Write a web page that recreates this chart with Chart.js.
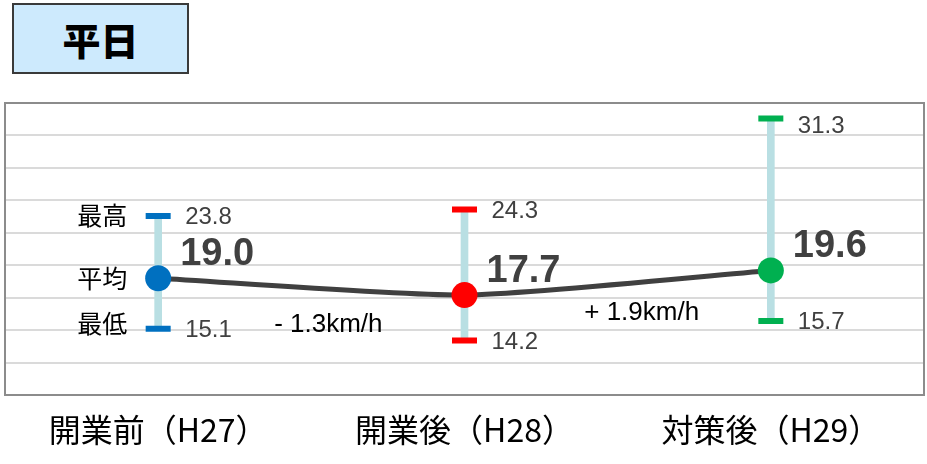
<!DOCTYPE html>
<html>
<head>
<meta charset="utf-8">
<script src="https://cdn.jsdelivr.net/npm/chart.js@4/dist/chart.umd.min.js"></script>
<style>
  html, body { margin: 0; padding: 0; background: #fff; }
  #wrap { position: relative; width: 927px; height: 464px; overflow: hidden; }
  canvas { position: absolute; left: 0; top: 0; }
  #badge {
    position: absolute; left: 12px; top: 3px; width: 173px; height: 67px;
    background: #cdeafd; border: 2px solid #3a3a3a;
    display: flex; align-items: center; justify-content: center;
    font: 900 38px "Noto Sans CJK JP", sans-serif; color: #000;
  }
</style>
</head>
<body>
<div id="wrap">
  <canvas id="c" width="927" height="464"></canvas>
  <div id="badge">平日</div>
</div>
<script>
// Weekday travel speeds (km/h) for each period
const categories = ['開業前（H27）', '開業後（H28）', '対策後（H29）'];
const averages = [19.0, 17.7, 19.6];
const maxima = [23.8, 24.3, 31.3];
const minima = [15.1, 14.2, 15.7];
const rowLabels = ['最高', '平均', '最低'];
const periodColors = ['#0070c0', '#ff0000', '#00b050'];
const speedUnit = 'km/h';

// Offsets of the change labels from the middle of each connecting segment
const changeLabelOffsets = [[17, 38], [24, 30]];

const annotate = {
  id: 'annotate',
  beforeDatasetsDraw(chart) {
    // plot frame
    const { ctx, chartArea: a } = chart;
    ctx.save();
    ctx.strokeStyle = '#8c8c8c';
    ctx.lineWidth = 2;
    ctx.strokeRect(a.left, a.top, a.right - a.left, a.bottom - a.top);
    ctx.restore();
  },
  afterDatasetsDraw(chart) {
    const { ctx, chartArea: a, scales: { x, y } } = chart;
    ctx.save();
    ctx.textBaseline = 'middle';

    // max / min values beside the caps
    ctx.font = '24px "Liberation Sans", Arial, sans-serif';
    ctx.fillStyle = '#404040';
    ctx.textAlign = 'left';
    categories.forEach((c, i) => {
      const px = x.getPixelForValue(i);
      const yMax = Math.max(y.getPixelForValue(maxima[i]) + 1.5, a.top + 23);
      ctx.fillText(maxima[i].toFixed(1), px + 27, yMax);
      ctx.fillText(minima[i].toFixed(1), px + 27, y.getPixelForValue(minima[i]) + 1.5);
    });

    // average values
    ctx.font = 'bold 38px "Liberation Sans", Arial, sans-serif';
    categories.forEach((c, i) => {
      const px = x.getPixelForValue(i);
      ctx.fillText(averages[i].toFixed(1), px + 22, y.getPixelForValue(averages[i]) - 24);
    });

    // row captions next to the first period
    ctx.font = '25px "Noto Sans CJK JP", sans-serif';
    ctx.fillStyle = '#000';
    ctx.textAlign = 'center';
    const x0 = x.getPixelForValue(0) - 56;
    ctx.fillText(rowLabels[0], x0, y.getPixelForValue(maxima[0]));
    ctx.fillText(rowLabels[1], x0, y.getPixelForValue(averages[0]));
    ctx.fillText(rowLabels[2], x0, y.getPixelForValue(minima[0]) - 5);

    // change between consecutive averages
    ctx.font = '26px "Liberation Sans", Arial, sans-serif';
    for (let i = 1; i < averages.length; i++) {
      const diff = averages[i] - averages[i - 1];
      const text = (diff < 0 ? '- ' : '+ ') + Math.abs(diff).toFixed(1) + speedUnit;
      const mx = (x.getPixelForValue(i - 1) + x.getPixelForValue(i)) / 2;
      const my = (y.getPixelForValue(averages[i - 1]) + y.getPixelForValue(averages[i])) / 2;
      const [dx, dy] = changeLabelOffsets[i - 1];
      ctx.fillText(text, mx + dx, my + dy);
    }
    ctx.restore();
  }
};

new Chart(document.getElementById('c'), {
  type: 'bar',
  data: {
    labels: categories,
    datasets: [
      {
        type: 'line',
        data: averages,
        borderColor: '#404040',
        borderWidth: 5,
        tension: 0.2,
        pointRadius: 13,
        pointHoverRadius: 13,
        pointBackgroundColor: periodColors,
        pointBorderWidth: 0,
        order: 0
      },
      {
        type: 'line',
        data: maxima,
        showLine: false,
        pointStyle: 'line',
        pointRadius: 12.5,
        pointBorderWidth: 6,
        pointBorderColor: periodColors,
        order: 1
      },
      {
        type: 'line',
        data: minima,
        showLine: false,
        pointStyle: 'line',
        pointRadius: 12.5,
        pointBorderWidth: 6,
        pointBorderColor: periodColors,
        order: 1
      },
      {
        type: 'bar',
        data: minima.map((v, i) => [v, maxima[i]]),
        backgroundColor: '#b9dfe3',
        barThickness: 7,
        order: 2
      }
    ]
  },
  options: {
    responsive: false,
    animation: false,
    devicePixelRatio: 1,
    events: [],
    layout: { autoPadding: false, padding: { left: 5, right: 3, top: 103, bottom: 0 } },
    plugins: { legend: { display: false }, tooltip: { enabled: false } },
    scales: {
      x: {
        offset: true,
        grid: { display: false, drawTicks: false },
        border: { display: false },
        ticks: {
          color: '#000',
          padding: 16,
          font: { family: '"Noto Sans CJK JP", sans-serif', size: 32 }
        },
        afterFit(scale) { scale.height = 69; }
      },
      y: {
        min: 10,
        max: 32.5,
        grid: { color: '#dadada', lineWidth: 2, drawTicks: false },
        border: { display: false },
        ticks: { display: false, stepSize: 2.5 },
        afterFit(scale) { scale.width = 0; }
      }
    }
  },
  plugins: [annotate]
});
</script>
</body>
</html>
